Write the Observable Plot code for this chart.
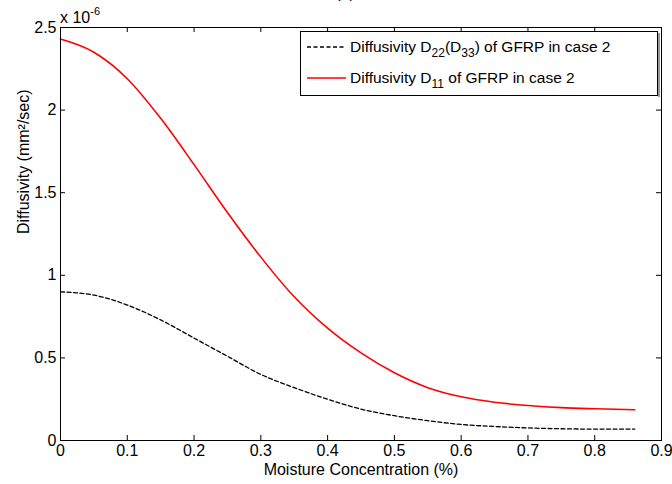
<!DOCTYPE html>
<html><head><meta charset="utf-8">
<script src="https://cdn.jsdelivr.net/npm/d3@7"></script>
<script src="https://cdn.jsdelivr.net/npm/@observablehq/plot@0.6"></script>
<style>body{margin:0;background:#fff} svg{display:block}</style>
</head><body><div id="chart"></div>
<script>
// Moisture concentration (%)
const moisture = [0, 0.05, 0.1, 0.15, 0.2, 0.25, 0.3, 0.35, 0.4, 0.45, 0.5, 0.55, 0.6, 0.65, 0.7, 0.75, 0.8, 0.86];
// Diffusivity values in units of 1e-6 mm^2/sec
const d11 = [2.43, 2.35, 2.19, 1.95, 1.67, 1.38, 1.11, 0.87, 0.68, 0.53, 0.41, 0.32, 0.265, 0.232, 0.212, 0.199, 0.192, 0.186];
const d22 = [0.90, 0.88, 0.82, 0.73, 0.62, 0.51, 0.40, 0.32, 0.25, 0.19, 0.15, 0.12, 0.097, 0.085, 0.076, 0.071, 0.069, 0.069];
const xTicks = [0, 0.1, 0.2, 0.3, 0.4, 0.5, 0.6, 0.7, 0.8, 0.9];
const yTicks = [0, 0.5, 1, 1.5, 2, 2.5];
const xTitle = "Moisture Concentration (%)";
const yTitle = "Diffusivity (mm\u00B2/sec)";
const titleText = "(a)";
const legendItems = [
  {parts: [["Diffusivity D", 0], ["22", 1], ["(D", 0], ["33", 1], [") of GFRP in case 2", 0]], stroke: "#000", dash: "4,2.5"},
  {parts: [["Diffusivity D", 0], ["11", 1], [" of GFRP in case 2", 0]], stroke: "#ff0000", dash: null}
];

const W = 672, H = 484, mL = 60, mR = 11, mT = 27, mB = 44;
const innerW = W - mL - mR, innerH = H - mT - mB;
const font = "'Liberation Sans', Arial, sans-serif";
const fs = 16, lfs = 15.5;

const rows22 = moisture.map((m, i) => ({m, v: d22[i]}));
const rows11 = moisture.map((m, i) => ({m, v: d11[i]}));

const svg = Plot.plot({
  width: W, height: H,
  marginLeft: mL, marginRight: mR, marginTop: mT, marginBottom: mB,
  style: {fontFamily: font, fontSize: fs + "px", color: "#000", background: "#fff", overflow: "visible"},
  x: {domain: [0, 0.9]},
  y: {domain: [0, 2.5]},
  marks: [
    Plot.line(rows22, {x: "m", y: "v", stroke: "#000", strokeWidth: 1.3, strokeDasharray: "4,2.5", curve: "monotone-x"}),
    Plot.line(rows11, {x: "m", y: "v", stroke: "#ff0000", strokeWidth: 1.6, curve: "monotone-x"}),
    Plot.tickX(xTicks, {x: d => d, insetTop: innerH - 5, stroke: "#000"}),
    Plot.tickX(xTicks, {x: d => d, insetBottom: innerH - 5, stroke: "#000"}),
    Plot.tickY(yTicks, {y: d => d, insetRight: innerW - 5, stroke: "#000"}),
    Plot.tickY(yTicks, {y: d => d, insetLeft: innerW - 5, stroke: "#000"}),
    Plot.axisX(xTicks, {tickSize: 0, tickPadding: 4, tickFormat: d => String(d), fontSize: fs, label: null}),
    Plot.axisY(yTicks, {tickSize: 0, tickPadding: 4, tickFormat: d => String(d), fontSize: fs, label: null}),
    Plot.text([xTitle], {text: d => d, frameAnchor: "bottom", dy: 34, fontSize: fs, fill: "#000"}),
    Plot.text([yTitle], {text: d => d, frameAnchor: "left", dx: -37, rotate: -90, fontSize: fs, fill: "#000"}),
    Plot.frame({stroke: "#000", strokeWidth: 1})
  ]
});
document.getElementById("chart").appendChild(svg);

const s = d3.select(svg);
// exponent label
const ex = s.append("text").attr("x", mL).attr("y", 23).attr("text-anchor", "start")
  .attr("font-family", font).attr("font-size", fs).attr("fill", "#000");
ex.append("tspan").text("x 10");
ex.append("tspan").attr("dy", -8).attr("font-size", 11).text("-6");
// clipped title (only its lower edge shows at the top of the picture)
s.append("text").attr("x", 345).attr("y", -2).attr("text-anchor", "middle")
  .attr("font-family", font).attr("font-size", fs).text(titleText);

// legend
const lg = s.append("g");
lg.append("rect").attr("x", 300.5).attr("y", 31.5).attr("width", 357).attr("height", 64).attr("fill", "#fff").attr("stroke", "#000");
lg.append("line").attr("x1", 659).attr("x2", 659).attr("y1", 33).attr("y2", 97).attr("stroke", "#999").attr("stroke-width", 2);
legendItems.forEach((it, i) => {
  const cy = 47 + i * 31;
  lg.append("line").attr("x1", 307).attr("x2", 346).attr("y1", cy).attr("y2", cy)
    .attr("stroke", it.stroke).attr("stroke-width", it.dash ? 1.3 : 1.6).attr("stroke-dasharray", it.dash);
  const t = lg.append("text").attr("x", 350).attr("y", cy + 5).attr("text-anchor", "start")
    .attr("font-family", font).attr("font-size", lfs).attr("fill", "#000");
  let prev = 0;
  it.parts.forEach(([str, sub]) => {
    const dy = (sub ? 5 : 0) - (prev ? 5 : 0);
    const ts = t.append("tspan").attr("dy", dy).text(str);
    if (sub) ts.attr("font-size", 12);
    prev = sub;
  });
});
</script></body></html>
